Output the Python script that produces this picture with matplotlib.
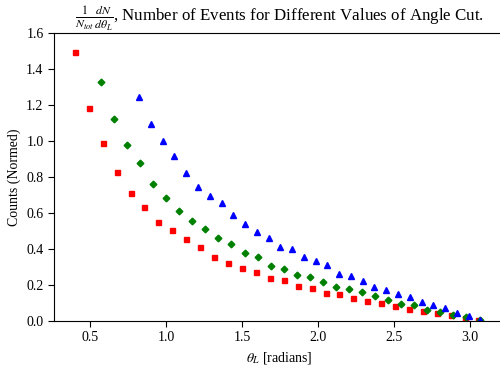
import matplotlib
matplotlib.use("Agg")
import matplotlib.pyplot as plt

plt.rcParams['font.family'] = ['Liberation Serif', 'DejaVu Serif']
plt.rcParams['mathtext.fontset'] = 'stix'

red_x = [0.401, 0.493, 0.584, 0.676, 0.768, 0.857, 0.949, 1.041, 1.134, 1.226,
         1.316, 1.408, 1.500, 1.592, 1.684, 1.774, 1.866, 1.959, 2.051, 2.140,
         2.232, 2.324, 2.414, 2.507, 2.599, 2.691, 2.783, 2.873, 2.965, 3.055]
red_y = [1.493, 1.187, 0.989, 0.829, 0.709, 0.635, 0.548, 0.506, 0.454, 0.411,
         0.357, 0.324, 0.294, 0.272, 0.238, 0.227, 0.193, 0.185, 0.154, 0.148,
         0.129, 0.111, 0.100, 0.083, 0.068, 0.057, 0.046, 0.032, 0.018, 0.007]

green_x = [0.570, 0.658, 0.743, 0.829, 0.914, 1.000, 1.086, 1.171, 1.259, 1.344,
           1.430, 1.518, 1.603, 1.689, 1.774, 1.860, 1.945, 2.031, 2.116, 2.202,
           2.289, 2.375, 2.461, 2.546, 2.632, 2.717, 2.803, 2.888, 2.974, 3.064]
green_y = [1.329, 1.122, 0.978, 0.879, 0.761, 0.683, 0.611, 0.557, 0.514, 0.463,
           0.429, 0.379, 0.354, 0.304, 0.287, 0.257, 0.244, 0.215, 0.191, 0.176,
           0.164, 0.137, 0.118, 0.096, 0.089, 0.063, 0.050, 0.032, 0.021, 0.004]

blue_x = [0.824, 0.901, 0.980, 1.055, 1.134, 1.213, 1.289, 1.365, 1.443, 1.522,
          1.599, 1.676, 1.752, 1.829, 1.908, 1.985, 2.061, 2.138, 2.217, 2.294,
          2.370, 2.449, 2.526, 2.605, 2.682, 2.758, 2.836, 2.912, 2.991, 3.066]
blue_y = [1.246, 1.098, 1.002, 0.917, 0.824, 0.746, 0.694, 0.654, 0.587, 0.539,
          0.496, 0.460, 0.413, 0.402, 0.354, 0.332, 0.309, 0.259, 0.249, 0.221,
          0.191, 0.171, 0.149, 0.132, 0.104, 0.087, 0.072, 0.046, 0.028, 0.007]

xticks = [0.5, 1.0, 1.5, 2.0, 2.5, 3.0]
yticks = [0.0, 0.2, 0.4, 0.6, 0.8, 1.0, 1.2, 1.4, 1.6]

fig = plt.figure(figsize=(5.0, 3.69), dpi=100)
ax = fig.add_axes([0.108, 0.130, 0.902, 0.780])

ax.plot(red_x, red_y, linestyle='none', marker='s', markersize=3.6, color='red')
ax.plot(green_x, green_y, linestyle='none', marker='D', markersize=3.4, color='green')
ax.plot(blue_x, blue_y, linestyle='none', marker='^', markersize=4.0, color='blue')

ax.set_xlim(0.263, 3.230)
ax.set_ylim(0.0, 1.6)
ax.set_xticks(xticks)
ax.set_xticklabels([f"{t:.1f}" for t in xticks])
ax.set_yticks(yticks)
ax.set_yticklabels([f"{t:.1f}" for t in yticks])
ax.tick_params(labelsize=10, direction='out', length=4)

ax.set_xlabel(r"$\theta_L$ [radians]", fontsize=10)
ax.set_ylabel("Counts (Normed)", fontsize=10)
ax.set_title(r"$\frac{1}{N_{tot}}\frac{dN}{d\theta_L}$, Number of Events for Different Values of Angle Cut.",
             fontsize=12.2, pad=4)

fig.savefig("out.png", dpi=100)
